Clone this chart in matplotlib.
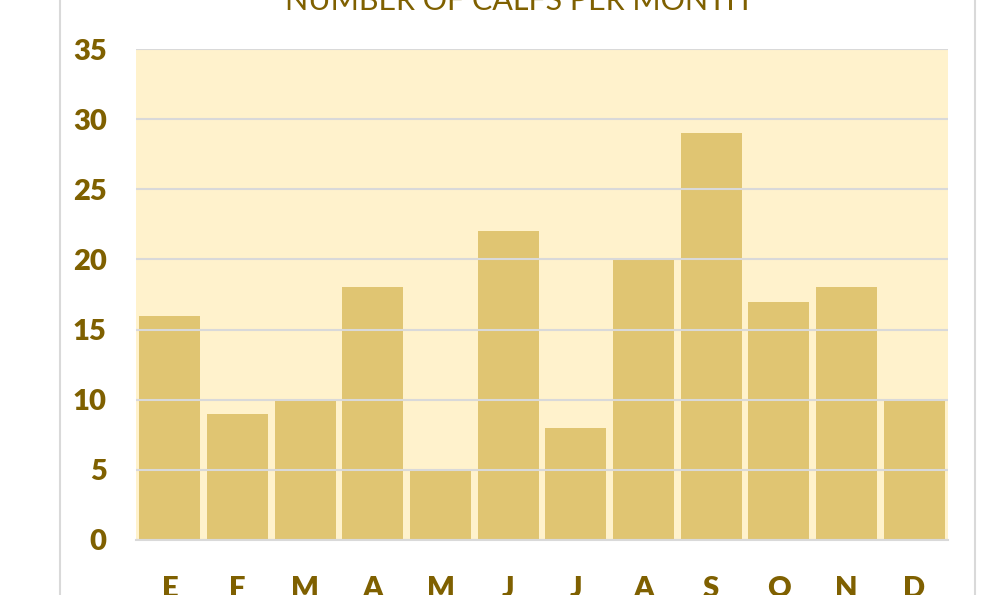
import matplotlib.pyplot as plt
from matplotlib.lines import Line2D

months = ['E', 'F', 'M', 'A', 'M', 'J', 'J', 'A', 'S', 'O', 'N', 'D']
calfs = [16, 9, 10, 18, 5, 22, 8, 20, 29, 17, 18, 10]
y_ticks = [0, 5, 10, 15, 20, 25, 30, 35]

txt_col = '#7f6000'
bar_col = '#e0c572'
bg_col = '#fff2cc'
grid_col = '#d9d9d9'

fig = plt.figure(figsize=(9.86, 5.95), dpi=100)
ax = fig.add_axes([136 / 986, 1 - 540 / 595, 812 / 986, 491 / 595])
ax.set_facecolor(bg_col)

x = range(len(months))
ax.bar(x, calfs, width=0.9, color=bar_col, zorder=2)
ax.set_xlim(-0.5, len(months) - 0.5)
ax.set_ylim(0, 35)

ax.set_yticks(y_ticks)
ax.set_xticks(list(x))
ax.set_xticklabels(months)
for lab in ax.get_xticklabels() + ax.get_yticklabels():
    lab.set_fontfamily('Lato')
    lab.set_fontweight('heavy')
    lab.set_fontsize(21)
    lab.set_color(txt_col)
ax.tick_params(axis='both', length=0)
ax.tick_params(axis='y', pad=21)
ax.tick_params(axis='x', pad=26)

# gridlines on top of the bars, like the original
ax.yaxis.grid(True, color=grid_col, linewidth=1.5, zorder=3)
ax.set_axisbelow(False)
for s in ['top', 'right', 'left']:
    ax.spines[s].set_visible(False)
ax.spines['bottom'].set_color(grid_col)
ax.spines['bottom'].set_linewidth(1.5)

# chart frame edges
fig.add_artist(Line2D([60 / 986, 60 / 986], [0, 1], color=grid_col, lw=1.5))
fig.add_artist(Line2D([975 / 986, 975 / 986], [0, 1], color=grid_col, lw=1.5))

fig.text(517 / 986, 1 - 10 / 595, 'NUMBER OF CALFS PER MONTH', ha='center', va='baseline',
         fontsize=22, color=txt_col, family='Lato', fontweight='normal')

fig.savefig('out.png', dpi=100, facecolor='white')
